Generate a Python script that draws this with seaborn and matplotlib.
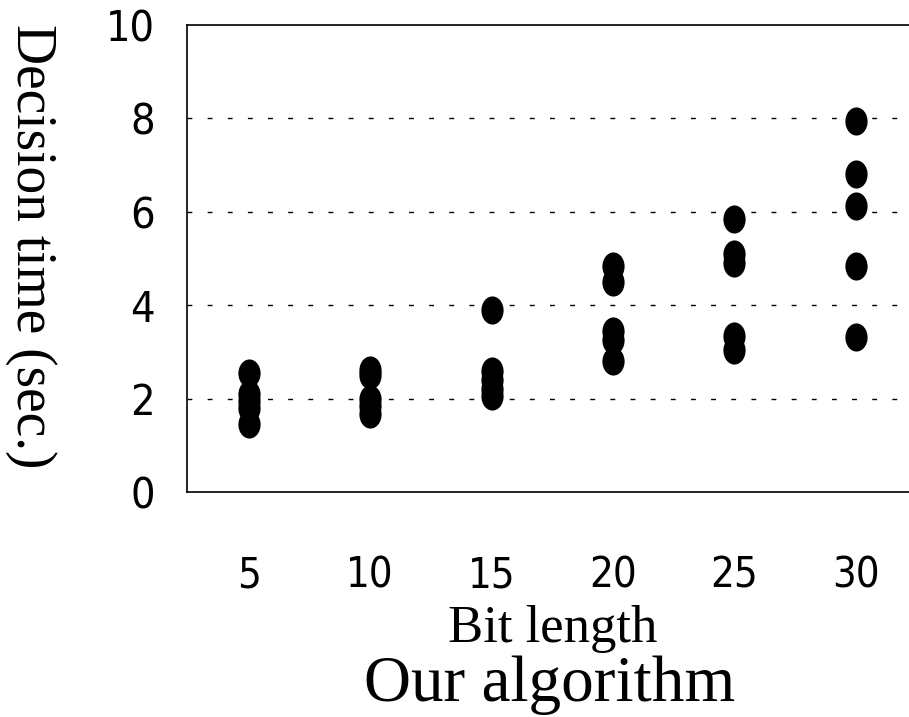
import numpy as np
import pandas as pd
import seaborn as sns
import matplotlib.pyplot as plt
from matplotlib.path import Path
from matplotlib.transforms import Affine2D

# Data (decision time in seconds for each bit length)

bit_lengths = [5, 10, 15, 20, 25, 30]
times_5 = [2.55, 2.1, 1.95, 1.8, 1.45]
times_10 = [2.62, 2.5, 2.0, 1.85, 1.68]
times_15 = [3.9, 2.6, 2.4, 2.2, 2.05]
times_20 = [4.85, 4.5, 3.45, 3.25, 2.8]
times_25 = [5.85, 5.1, 4.9, 3.35, 3.05]
times_30 = [7.95, 6.8, 6.12, 4.85, 3.32]
y_ticks = [0, 2, 4, 6, 8, 10]

all_times = [times_5, times_10, times_15, times_20, times_25, times_30]
rows = []
for bl, ts in zip(bit_lengths, all_times):
    for t in ts:
        rows.append({'bit': bl, 'time': t})
df = pd.DataFrame(rows)

# Style

sns.set_style('white')
plt.rcParams['font.family'] = ['DejaVu Sans']
plt.rcParams['font.stretch'] = 'condensed'
plt.rcParams['text.color'] = 'black'
plt.rcParams['axes.labelcolor'] = 'black'
plt.rcParams['xtick.color'] = 'black'
plt.rcParams['ytick.color'] = 'black'

fig = plt.figure(figsize=(9.09, 7.17), dpi=100)
ax = fig.add_axes([0.2057, 0.3138, 0.7943, 0.6513])

# Tall ellipse marker like the original dots
ellipse = Path.unit_circle().transformed(Affine2D().scale(0.79, 1.0))

sns.scatterplot(data=df, x='bit', y='time', marker=ellipse, s=410,
                color='black', linewidth=0, ax=ax, zorder=3)

ax.set_xlim(2.45, 32.2)
ax.set_ylim(0, 10)
ax.set_xticks(bit_lengths)
ax.set_yticks(y_ticks)

# dotted grid lines
for y in [2, 4, 6, 8]:
    ax.axhline(y, color='black', linewidth=1.0, linestyle=(0, (3.5, 11)), zorder=1)

for side in ['left', 'bottom', 'top']:
    ax.spines[side].set_color('black')
    ax.spines[side].set_linewidth(1.2)
ax.spines['right'].set_visible(False)

ax.tick_params(axis='y', direction='in', length=4, width=1, pad=23, labelsize=31)
ax.tick_params(axis='x', length=0, pad=45, labelsize=30)

serif = ['Liberation Serif', 'DejaVu Serif']
ax.set_xlabel('Bit length', family=serif, fontsize=38, stretch='normal')
ax.xaxis.label.set_va('baseline')
ax.xaxis.set_label_coords(0.506, -0.322)

ax.set_ylabel('Decision time (sec.)', family=serif, fontsize=40,
              stretch='normal', rotation=270)
ax.yaxis.label.set_va('center')
ax.yaxis.label.set_rotation_mode('default')
ax.yaxis.set_label_coords(-0.216, 0.527)

fig.text(0.605, 0.022, 'Our algorithm', family=serif, fontsize=47,
         stretch='normal', ha='center', va='baseline')

fig.savefig('out.png', dpi=100)
